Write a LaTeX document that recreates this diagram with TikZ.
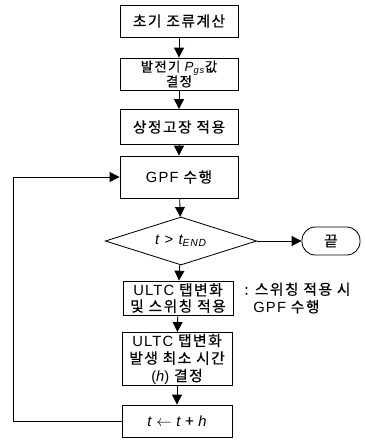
\documentclass[tikz,border=0pt]{standalone}
\usepackage{fontspec}
\setmainfont{Liberation Sans}[LetterSpace=8]
\newfontfamily\krfont{Noto Sans CJK KR}[LetterSpace=10, FakeBold=0.4]
\usetikzlibrary{arrows.meta}
\usetikzlibrary{shapes.geometric}
\newcommand{\vr}[1]{{\rmfamily\itshape #1}}
\newcommand{\la}[1]{{\rmfamily #1}}

\begin{document}
\begin{tikzpicture}[x=0.025cm, y=-0.025cm, >={Triangle[length=7pt,width=7pt]},
    line width=0.6pt,
    box/.style={draw, rectangle, minimum width=2.95cm, minimum height=0.8cm,
        inner sep=0pt, align=center, font=\krfont\fontsize{10.5}{11.5}\selectfont},
    smallbox/.style={box, minimum width=2.75cm},
    test/.style={draw, diamond, aspect=3.1, minimum width=3.78cm, minimum height=1.2cm,
        inner sep=0pt, font=\fontsize{10.5}{11.5}\selectfont},
    terminal/.style={draw, rectangle, rounded corners=9.5pt, minimum width=1.45cm,
        minimum height=0.7cm, inner sep=0pt, font=\krfont\fontsize{10.5}{11.5}\selectfont}]
        \useasboundingbox (0,0) rectangle (364,440);

        % Draw the main column of boxes
        \node[box] (init)  at (179,21)  {초기 조류계산};
        \node[box, inner ysep=1.5pt, font=\krfont\fontsize{9.5}{10.5}\selectfont]
            (pgs)   at (179,74)  {발전기 \vr{P}\textsubscript{\vr{gs}}값\\결정};
        \node[box, minimum height=0.875cm] (fault) at (179,127) {상정고장 적용};
        \node[box, minimum height=1.05cm]  (gpf)   at (179,177) {\la{GPF} 수행};
        \node[test] (check) at (181,241) {\vr{t} > \vr{t}\textsubscript{\vr{END}}};
        \node[terminal] (stop) at (331,241) {끝};
        \node[smallbox, minimum height=0.85cm] (tap)  at (178,298) {\la{ULTC} 탭변화\\및 스위칭 적용};
        \node[smallbox, minimum height=1.33cm, font=\krfont\fontsize{10.5}{12.5}\selectfont]
            (hmin) at (177,359) {\la{ULTC} 탭변화\\발생 최소 시간\\\la{(}\vr{h}\la{)} 결정};
        \node[smallbox] (tinc) at (177,421) {\vr{t} $\leftarrow$ \vr{t} + \vr{h}};

        % Annotate the switching box
        \node[anchor=west, align=left, inner sep=0pt, font=\krfont\fontsize{10.5}{12.5}\selectfont]
            (note) at (244,298) {: 스위칭 적용 시\\\hphantom{:~}\la{GPF} 수행};

        % Draw the arrows
        \draw[->] (init)  -- (pgs);
        \draw[->] (pgs)   -- (fault);
        \draw[->] (fault) -- (gpf);
        \draw[->] (gpf)   -- (check);
        \draw[->] (check) -- (stop);
        \draw[->] (check) -- (tap);
        \draw[->] (tap)   -- (hmin);
        \draw[->] (hmin)  -- (tinc);

        % Draw the loop back
        \coordinate (corner) at (13,421);
        \draw[->] (tinc.west) -- (corner) |- (gpf.west);
    \end{tikzpicture}
\end{document}
